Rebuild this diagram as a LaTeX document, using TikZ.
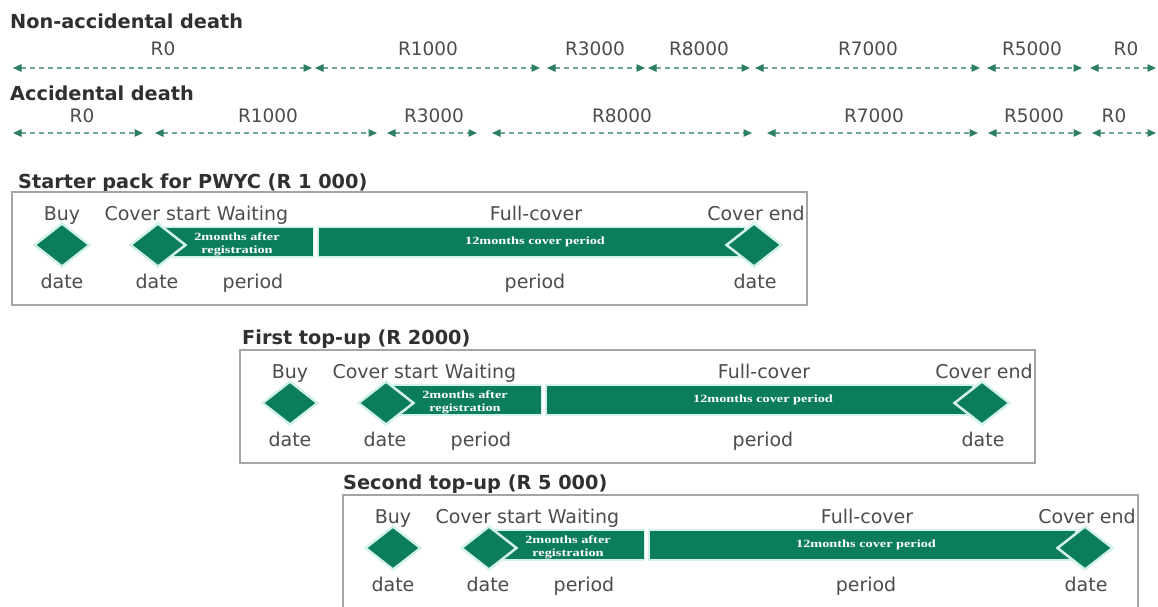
\documentclass[tikz,border=0pt]{standalone}
\usepackage{fontspec}
\setmainfont{DejaVu Sans}
\newfontfamily\barfont{Liberation Serif}
\usetikzlibrary{arrows.meta,shapes.geometric}

\definecolor{leaf}{HTML}{0B7D5C}
\definecolor{mint}{HTML}{D2F2EA}
\definecolor{arrowgreen}{HTML}{2E7F62}
\definecolor{dashgreen}{HTML}{6FA694}
\definecolor{labelgray}{HTML}{4C4C4C}
\definecolor{headgray}{HTML}{303030}
\definecolor{framegray}{HTML}{A5A5A5}

\tikzset{
  span/.style={draw=dashgreen, line width=1.3pt, dash pattern=on 5pt off 4pt,
    {Triangle[length=8.5pt,width=7.5pt,color=arrowgreen]}-{Triangle[length=8.5pt,width=7.5pt,color=arrowgreen]}},
  ratelabel/.style={text=labelgray, font=\fontsize{18.5}{20}\selectfont, anchor=base, inner sep=0pt},
  heading/.style={text=headgray, font=\bfseries\fontsize{19.3}{21}\selectfont, anchor=base west, inner sep=0pt},
  boxlabel/.style={text=labelgray, font=\fontsize{19}{21}\selectfont, anchor=base, inner sep=0pt},
  frame/.style={draw=framegray, line width=1.2pt},
  bar/.style={rectangle, fill=leaf, draw=mint, line width=1.8pt, inner sep=0pt, minimum height=30pt},
  gem/.style={diamond, fill=leaf, draw=mint, line width=2.5pt, inner sep=0pt, aspect=1.25,
    minimum width=56pt, minimum height=44pt},
  barnote/.style={text=white, font=\barfont\bfseries\fontsize{11}{13}\selectfont, align=center,
    inner sep=0pt, xscale=1.3, transform shape},
  coverline/.pic={
    \draw[frame] (0,0) rectangle (795,113);
    % bars first, markers on top
    \node[bar, minimum width=151pt] (-wait) at (226,50) {};
    \node[bar, minimum width=427pt] (-full) at (519.5,50) {};
    \node[barnote] (-waitnote) at (225,52) {2months after\\registration};
    \node[barnote] (-fullnote) at (523,50) {12months cover period};
    \node[gem] (-buydot) at (50,53) {};
    \node[gem] (-startdot) at (146,53) {};
    \node[gem] (-enddot) at (742,53) {};
    % captions above
    \node[boxlabel] (-buy) at (50,28) {Buy};
    \node[boxlabel] (-start) at (145.5,28) {Cover start};
    \node[boxlabel] (-waiting) at (240.5,28) {Waiting};
    \node[boxlabel] (-fullcover) at (524,28) {Full-cover};
    \node[boxlabel] (-end) at (744,28) {Cover end};
    % captions below
    \node[boxlabel] (-buydate) at (50,96) {date};
    \node[boxlabel] (-startdate) at (145,96) {date};
    \node[boxlabel] (-waitperiod) at (241,96) {period};
    \node[boxlabel] (-fullperiod) at (523,96) {period};
    \node[boxlabel] (-enddate) at (743,96) {date};
  }
}

\begin{document}
\begin{tikzpicture}[x=1pt,y=-1pt]
\useasboundingbox (0,0) rectangle (1158,606);
\clip (0,0) rectangle (1158,606);
\fill[white] (0,0) rectangle (1158,606);

% benefit scale for non-accidental death
\node[heading] (nonacc) at (10,28) {Non-accidental death};
\foreach \a/\b [count=\i] in {13/312, 315/540, 547/645, 648/750, 755/980, 987/1082, 1090/1156} {
  \coordinate (na\i) at (\a,68);
  \coordinate (nb\i) at (\b,68);
  \draw[span] (na\i) -- (nb\i);
}
\foreach \x/\t [count=\i] in {163/R0, 428/R1000, 595/R3000, 699/R8000, 868/R7000, 1032/R5000, 1126/R0} {
  \node[ratelabel] (nl\i) at (\x,55) {\t};
}

% benefit scale for accidental death
\node[heading] (acc) at (10,100) {Accidental death};
\foreach \a/\b [count=\i] in {13/143, 155/377, 387/477, 492/752, 767/978, 988/1082, 1092/1156} {
  \coordinate (aa\i) at (\a,133);
  \coordinate (ab\i) at (\b,133);
  \draw[span] (aa\i) -- (ab\i);
}
\foreach \x/\t [count=\i] in {82/R0, 268/R1000, 434/R3000, 622/R8000, 874/R7000, 1034/R5000, 1114/R0} {
  \node[ratelabel] (al\i) at (\x,122) {\t};
}

% purchase timelines
\node[heading] (starttitle) at (18,188) {Starter pack for PWYC (R 1 000)};
\pic (starter) at (12,192) {coverline};

\node[heading] (firsttitle) at (242,344) {First top-up (R 2000)};
\pic (first) at (240,350) {coverline};

\node[heading] (secondtitle) at (343,489) {Second top-up (R 5 000)};
\pic (second) at (343,495) {coverline};
\end{tikzpicture}
\end{document}
